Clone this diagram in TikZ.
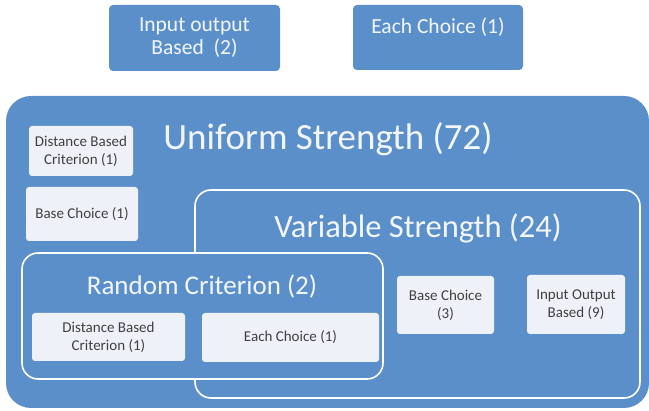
\documentclass[tikz,border=0pt]{standalone}
\usepackage{fontspec}
\setmainfont{Carlito}
\definecolor{boxblue}{RGB}{91,143,201}
\definecolor{paleblue}{RGB}{238,241,247}
\definecolor{titlewhite}{RGB}{242,246,251}
\tikzset{
	topbox/.style={fill=boxblue, rounded corners=4pt, text=titlewhite, align=center,
			inner sep=0pt, font=\fontsize{21.5}{23}\selectfont},
	leaf/.style={fill=paleblue, rounded corners=3pt, text=black!75, align=center,
			inner sep=0pt, font=\fontsize{15}{18}\selectfont},
	group/.style={draw=white, line width=1.6pt, fill=boxblue, rounded corners=16pt},
	grouptitle/.style={text=titlewhite, inner sep=0pt}
}

\begin{document}
\begin{tikzpicture}[x=1pt, y=-1pt]
		\useasboundingbox (0, 0) rectangle (649, 411);

		% top boxes
		\node[topbox, minimum width=171, minimum height=66] (iob) at (194.5, 38) {Input output\\Based~ (2)};
		\node[topbox, minimum width=170, minimum height=65] (ech) at (438, 37.5) {Each Choice (1)\\\phantom{B}};

		% uniform strength
		\fill[boxblue, rounded corners=25pt]	(6, 96) rectangle (649, 408);
		\node[grouptitle, font=\fontsize{37}{39}\selectfont] (uni) at (328, 139) {Uniform Strength (72)};
		\node[leaf, minimum width=104, minimum height=50] (udbc) at (81, 151) {Distance Based\\Criterion (1)};
		\node[leaf, minimum width=112, minimum height=54] (ubc) at (82, 214) {Base Choice (1)};

		% variable strength
		\draw[group]	(195, 190) rectangle (640, 398);
		\node[grouptitle, font=\fontsize{32.5}{34}\selectfont] (var) at (418, 228) {Variable Strength (24)};
		\node[leaf, minimum width=97, minimum height=58] (vbc) at (445.5, 305) {Base Choice\\(3)};
		\node[leaf, minimum width=98, minimum height=59] (viob) at (576, 304.5) {Input Output\\Based (9)};

		% random criterion
		\draw[group]	(22, 253) rectangle (383, 379);
		\node[grouptitle, font=\fontsize{27}{29}\selectfont] (rnd) at (202, 287) {Random Criterion (2)};
		\node[leaf, minimum width=153, minimum height=48] (rdbc) at (108.5, 337) {Distance Based\\Criterion (1)};
		\node[leaf, minimum width=177, minimum height=49] (rech) at (290.5, 337.5) {Each Choice (1)};
	\end{tikzpicture}
\end{document}
